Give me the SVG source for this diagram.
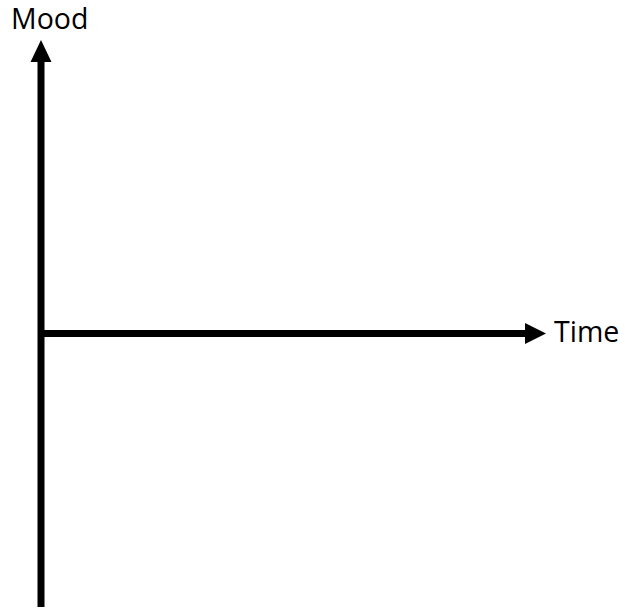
<svg xmlns="http://www.w3.org/2000/svg" width="625" height="608" viewBox="0 0 625 608">
<style>
.axis{stroke:#000;stroke-width:7;fill:none}
.lbl{font-family:"Open Sans","Liberation Sans",sans-serif;font-size:28.5px;fill:#000}
</style>
<rect width="625" height="608" fill="#fff"/>
<g id="connectors">
<line class="axis" x1="41" y1="607" x2="41" y2="60"/>
<polygon points="41,40 30.5,62 51.5,62" fill="#000"/>
<line class="axis" x1="41" y1="333.5" x2="527" y2="333.5"/>
<polygon points="546,333.5 525,323 525,344" fill="#000"/>
</g>
<g id="mood"><text class="lbl" x="11" y="29">Mood</text></g>
<g id="time"><text class="lbl" x="554" y="342">Time</text></g>
</svg>
